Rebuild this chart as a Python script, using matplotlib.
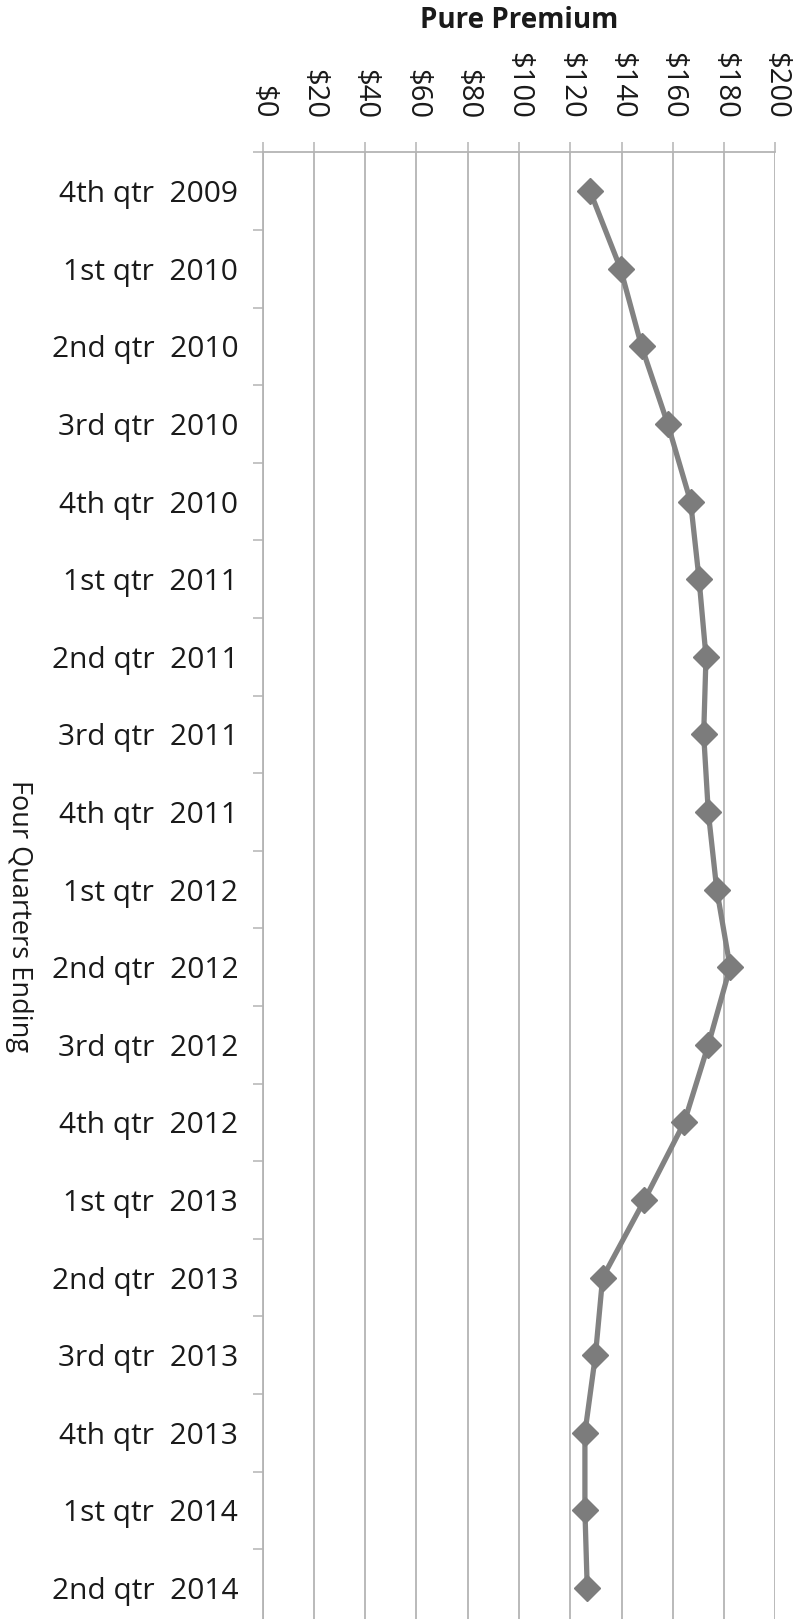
import matplotlib
matplotlib.use("Agg")
import matplotlib.pyplot as plt
import numpy as np

categories = ["4th qtr  2009", "1st qtr  2010", "2nd qtr  2010", "3rd qtr  2010",
              "4th qtr  2010", "1st qtr  2011", "2nd qtr  2011", "3rd qtr  2011",
              "4th qtr  2011", "1st qtr  2012", "2nd qtr  2012", "3rd qtr  2012",
              "4th qtr  2012", "1st qtr  2013", "2nd qtr  2013", "3rd qtr  2013",
              "4th qtr  2013", "1st qtr  2014", "2nd qtr  2014"]
pure_premium = [127.7, 139.6, 147.8, 158.0, 166.9, 170.2, 172.9, 172.0, 173.8,
                177.1, 182.3, 173.8, 164.4, 148.9, 132.6, 129.8, 125.7, 125.7, 126.6]
x_ticks = [0, 20, 40, 60, 80, 100, 120, 140, 160, 180, 200]
x_tick_labels = ["$" + str(v) for v in x_ticks]

plt.rcParams['font.family'] = ['Open Sans', 'DejaVu Sans']

W, H = 799, 1619
fig = plt.figure(figsize=(W / 100, H / 100), dpi=100)
left_px, right_px = 262.5, 775.5
top_px, bottom_px = 152.4, 1626.9
ax = fig.add_axes([left_px / W, 1 - bottom_px / H, (right_px - left_px) / W,
                   (bottom_px - top_px) / H])

grid_c = "#b4b4b4"
text_c = "#1a1a1a"
y = np.arange(len(categories))

ax.plot(pure_premium, y, color="#828282", lw=3.8, marker="D", ms=13.5,
        markerfacecolor="#7c7c7c", markeredgecolor="#7c7c7c", zorder=3,
        solid_joinstyle="round")

ax.set_xlim(0, 200)
ax.set_ylim(len(categories) - 0.5, -0.5)

ax.xaxis.tick_top()
ax.set_xticks(x_ticks)
ax.set_xticklabels(x_tick_labels, rotation=-90, fontsize=21, color=text_c,
                   va="bottom", ha="center")
ax.tick_params(axis="x", which="major", length=7.2, width=1.1, color=grid_c,
               pad=17, top=True, bottom=False)
ax.grid(axis="x", color=grid_c, lw=1.3, zorder=0)

ax.set_yticks(y)
ax.set_yticklabels(categories, fontsize=21.5, color=text_c)
ax.tick_params(axis="y", which="major", length=0, pad=17.5)
ax.set_yticks(np.arange(len(categories) + 1) - 0.5, minor=True)
ax.tick_params(axis="y", which="minor", length=7.2, width=1.1, color=grid_c)

for s in ["right", "bottom"]:
    ax.spines[s].set_visible(False)
for s in ["top", "left"]:
    ax.spines[s].set_color(grid_c)
    ax.spines[s].set_linewidth(1.3)

fig.text(519 / W, 1 - 21 / H, "Pure Premium", ha="center", va="center",
         fontsize=20, fontweight="bold", color=text_c)
fig.text(19 / W, 1 - 916 / H, "Four Quarters Ending", ha="center", va="center",
         rotation=-90, fontsize=19.5, color=text_c)

fig.savefig("out.png", dpi=100)
